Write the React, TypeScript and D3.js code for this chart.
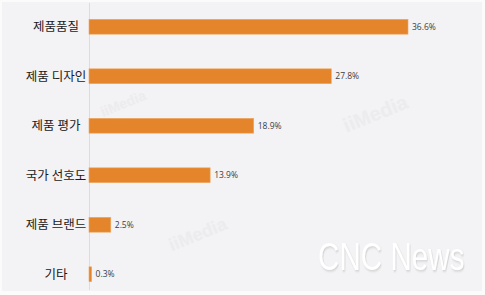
import React from "react";
import * as d3 from "d3";

const categories = ["제품품질", "제품 디자인", "제품 평가", "국가 선호도", "제품 브랜드", "기타"];
const values = [36.6, 27.8, 18.9, 13.9, 2.5, 0.3];
const valueLabels = ["36.6%", "27.8%", "18.9%", "13.9%", "2.5%", "0.3%"];

const W = 485;
const H = 295;

export default function App() {
  const x = d3.scaleLinear().domain([0, 36.6]).range([89, 408]);
  const y = d3
    .scaleBand<string>()
    .domain(categories)
    .range([2, 299])
    .paddingInner(0.7)
    .paddingOuter(0.35);

  const wm = [
    { x: 125, y: 108, s: 14 },
    { x: 378, y: 120, s: 20 },
    { x: 200, y: 240, s: 18 },
  ];

  return (
    <svg
      width={W}
      height={H}
      style={{ position: "absolute", left: 0, top: 0, display: "block" }}
    >
      <defs>
        <filter id="sh" x="-10%" y="-10%" width="120%" height="130%">
          <feDropShadow dx="1" dy="1.5" stdDeviation="0.8" floodColor="#c9c8cc" floodOpacity="0.8" />
        </filter>
      </defs>
      <rect x={0} y={0} width={W} height={H} fill="#fbfbfc" />
      <rect x={2} y={2} width={480} height={289} fill="#f3f2f4" />
      {wm.map((d, i) => (
        <text
          key={i}
          x={d.x}
          y={d.y}
          transform={`rotate(-22 ${d.x} ${d.y})`}
          textAnchor="middle"
          fontFamily="Arial, 'Liberation Sans', sans-serif"
          fontWeight="bold"
          fontSize={d.s}
          fill="#ecebee"
        >
          iiMedia
        </text>
      ))}
      <g transform="translate(318,270) scale(0.76,1)">
        <text
          x={0}
          y={0}
          fontFamily="'Liberation Sans', Arial, sans-serif"
          fontSize={39}
          fill="#ffffff"
          filter="url(#sh)"
        >
          CNC News
        </text>
      </g>
      <line x1={89.5} x2={89.5} y1={3} y2={290} stroke="#dcdbde" strokeWidth={1} />
      {categories.map((c, i) => {
        const yy = y(c)!;
        const bw = y.bandwidth();
        return (
          <g key={c}>
            <rect
              x={x(0)}
              y={yy}
              width={x(values[i]) - x(0)}
              height={bw}
              fill="#e5852b"
              stroke="#f0a860"
              strokeWidth={0.6}
            />
            <text
              x={56}
              y={yy + bw / 2}
              dy="0.36em"
              textAnchor="middle"
              fontFamily="'Noto Sans CJK KR', sans-serif"
              fontSize={12.5}
              fill="#1a1a1a"
            >
              {c}
            </text>
            <text
              x={x(values[i]) + 4}
              y={yy + bw / 2}
              dy="0.35em"
              fontFamily="'Open Sans', 'Noto Sans', sans-serif"
              fontSize={8.5}
              fill="#3d3d3d"
            >
              {valueLabels[i]}
            </text>
          </g>
        );
      })}
    </svg>
  );
}
